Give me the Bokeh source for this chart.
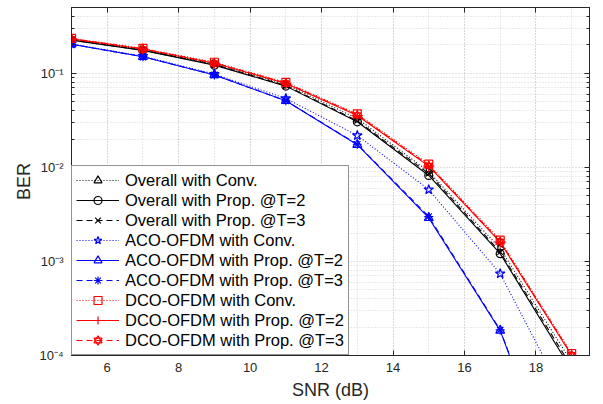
import numpy as np
from bokeh.plotting import figure
from bokeh.models import (LogAxis, LinearAxis, FixedTicker, SingleIntervalTicker, Range1d,
                          CustomJSTickFormatter, Legend, LegendItem)
from bokeh.embed import file_html
from bokeh.resources import INLINE

# ---------------- data ----------------
snr = [5, 7, 9, 11, 13, 15, 17, 19]

overall_conv = [0.228, 0.178, 0.126, 0.076, 0.0330, 0.0090, 0.00137, 8.5e-5]
overall_t2   = [0.225, 0.175, 0.122, 0.073, 0.0305, 0.0082, 0.00121, 7.0e-5]
overall_t3   = [0.226, 0.176, 0.124, 0.074, 0.0312, 0.0086, 0.00126, 7.6e-5]

aco_conv = [0.205, 0.152, 0.098, 0.054, 0.0218, 0.0058, 0.00074, 2.6e-5]
aco_t2   = [0.203, 0.150, 0.096, 0.051, 0.0174, 0.0029, 0.000184, 1.7e-6]
aco_t3   = [0.203, 0.150, 0.096, 0.051, 0.0176, 0.0030, 0.000187, 1.8e-6]

dco_conv = [0.235, 0.184, 0.131, 0.080, 0.0370, 0.0108, 0.00168, 1.05e-4]
dco_t2   = [0.232, 0.181, 0.128, 0.078, 0.0355, 0.0103, 0.00160, 1.0e-4]
dco_t3   = [0.233, 0.182, 0.129, 0.079, 0.0362, 0.0105, 0.00163, 1.02e-4]

labels = ["Overall with Conv.", "Overall with Prop. @T=2", "Overall with Prop. @T=3",
          "ACO-OFDM with Conv.", "ACO-OFDM with Prop. @T=2", "ACO-OFDM with Prop. @T=3",
          "DCO-OFDM with Conv.", "DCO-OFDM with Prop. @T=2", "DCO-OFDM with Prop. @T=3"]

y_ticks = [1e-4, 1e-3, 1e-2, 1e-1]
y_tick_labels = ["10\u207b\u2074", "10\u207b\u00b3", "10\u207b\u00b2", "10\u207b\u00b9"]
y_minor = [m * d for d in [1e-4, 1e-3, 1e-2, 1e-1] for m in range(2, 10)]

# ---------------- figure ----------------
FONT = "Liberation Sans"
TXT = "#262626"

p = figure(width=600, height=404, y_axis_type="log",
           x_range=Range1d(5, 19.5), y_range=Range1d(1e-4, 0.5),
           output_backend="svg", toolbar_location=None,
           min_border_left=71, min_border_right=11, min_border_top=7, min_border_bottom=49)
p.outline_line_color = TXT
p.outline_line_width = 1

xt = SingleIntervalTicker(interval=2, num_minor_ticks=2)
yt = FixedTicker(ticks=y_ticks, minor_ticks=y_minor)
yfmt = CustomJSTickFormatter(args=dict(tvals=y_ticks, tlabs=y_tick_labels), code="""
    for (let i = 0; i < tvals.length; i++) {
        if (Math.abs(Math.log10(tvals[i] / tick)) < 1e-6) return tlabs[i];
    }
    return "";
""")

p.xaxis.ticker = xt
p.xgrid.ticker = xt
p.yaxis.ticker = yt
p.ygrid.ticker = yt
p.yaxis.formatter = yfmt

for ax in (p.xaxis, p.yaxis):
    ax.axis_line_color = TXT
    ax.major_tick_line_color = TXT
    ax.major_tick_in = 5
    ax.major_tick_out = 0
    ax.minor_tick_in = 3
    ax.minor_tick_out = 0
    ax.major_label_text_font = FONT
    ax.major_label_text_font_size = "13px"
    ax.major_label_text_color = TXT
    ax.axis_label_text_font = FONT
    ax.axis_label_text_font_size = "18px"
    ax.axis_label_text_font_style = "normal"
    ax.axis_label_text_color = TXT
p.xaxis.minor_tick_line_color = None
p.yaxis.minor_tick_line_color = TXT
p.xaxis.axis_label = "SNR (dB)"
p.yaxis.axis_label = "BER"
p.xaxis.major_label_standoff = 7
p.xaxis.axis_label_standoff = 5
p.yaxis.major_label_standoff = 8
p.yaxis.axis_label_standoff = 2

# mirrored axes (top / right), labels hidden
top = LinearAxis(ticker=xt, major_tick_in=5, major_tick_out=0, minor_tick_line_color=None,
                 major_label_text_font_size="1px", major_label_text_color=None,
                 major_label_standoff=0, axis_line_color=TXT, major_tick_line_color=TXT)
right = LogAxis(ticker=yt, major_tick_in=5, major_tick_out=0, minor_tick_in=3, minor_tick_out=0,
                major_label_text_font_size="1px", major_label_text_color=None,
                major_label_standoff=0, axis_line_color=TXT, major_tick_line_color=TXT,
                minor_tick_line_color=TXT)
p.add_layout(top, "above")
p.add_layout(right, "right")

for g in (p.xgrid, p.ygrid):
    g.grid_line_color = "#c4c4c4"
    g.grid_line_dash = "1 2"
    g.grid_line_width = 1
    g.minor_grid_line_color = "#d4d4d4"
    g.minor_grid_line_dash = "1 2"
    g.minor_grid_line_width = 1

# ---------------- series ----------------
DOT = "1 2"
DASH = "6 4"
BLACK, BLUE, RED = "#000000", "#0000ff", "#ff0000"

series = [
    (overall_conv, BLACK, DOT, [("triangle", -np.pi / 2, 8)]),
    (overall_t2, BLACK, "solid", [("circle", 0, 8)]),
    (overall_t3, BLACK, DASH, [("x", 0, 8)]),
    (aco_conv, BLUE, DOT, [("star", 0, 10)]),
    (aco_t2, BLUE, "solid", [("triangle", 0, 9)]),
    (aco_t3, BLUE, DASH, [("asterisk", 0, 9)]),
    (dco_conv, RED, DOT, [("square", 0, 8)]),
    (dco_t2, RED, "solid", [("cross", 0, 11)]),
    (dco_t3, RED, DASH, [("triangle", 0, 7), ("inverted_triangle", 0, 7)]),
]

items = []
for (vals, col, dash, marks), lab in zip(series, labels):
    rs = [p.line(snr, vals, line_color=col, line_width=1.1, line_dash=dash)]
    for mk, ang, sz in marks:
        rs.append(p.scatter(snr, vals, marker=mk, angle=ang, size=sz, line_color=col,
                            fill_color=None, line_width=1.2))
    items.append(LegendItem(label=lab, renderers=rs))

legend = Legend(items=items, location="bottom_left", margin=0, padding=4, spacing=0,
                label_height=20, glyph_height=20, glyph_width=43, label_standoff=6,
                label_text_font=FONT, label_text_font_size="16.5px", label_text_color="#000000",
                border_line_color=TXT, border_line_width=1, background_fill_color="white",
                background_fill_alpha=1)
p.add_layout(legend)

open("out.html", "w").write(file_html(p, INLINE))
